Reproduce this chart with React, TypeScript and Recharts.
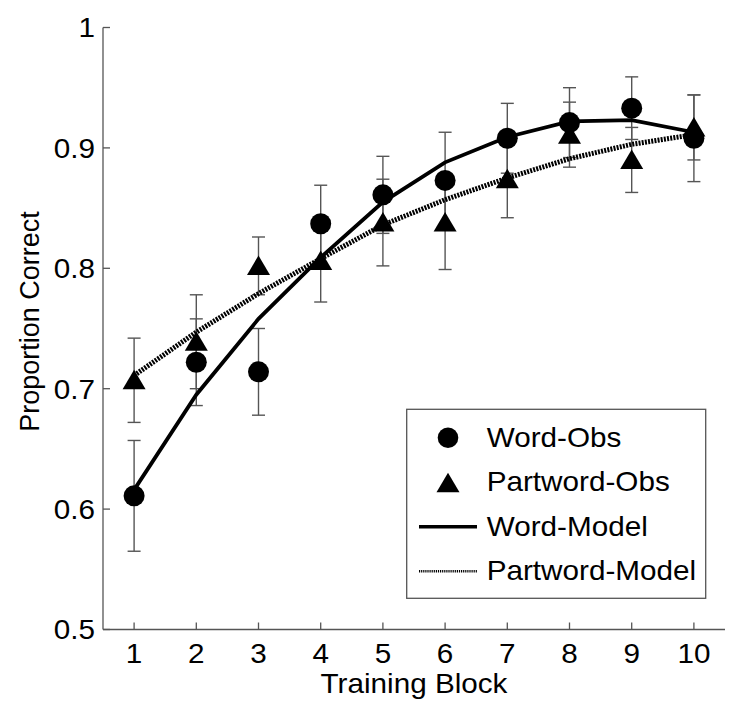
import React from 'react';
import { ComposedChart, Scatter, Line, XAxis, YAxis, ErrorBar } from 'recharts';

const blocks = [1, 2, 3, 4, 5, 6, 7, 8, 9, 10];
const wordObs = [0.611, 0.722, 0.714, 0.837, 0.861, 0.873, 0.908, 0.921, 0.933, 0.908];
const wordObsErr = [0.046, 0.036, 0.036, 0.032, 0.032, 0.040, 0.029, 0.029, 0.026, 0.036];
const partObs = [0.707, 0.739, 0.802, 0.806, 0.838, 0.838, 0.874, 0.911, 0.890, 0.917];
const partObsErr = [0.035, 0.039, 0.024, 0.034, 0.036, 0.039, 0.032, 0.027, 0.027, 0.027];
const wordModel = [0.616, 0.695, 0.758, 0.809, 0.855, 0.888, 0.909, 0.922, 0.923, 0.913];
const partModel = [0.711, 0.747, 0.779, 0.808, 0.836, 0.857, 0.875, 0.891, 0.903, 0.911];
const xTicks = [1, 2, 3, 4, 5, 6, 7, 8, 9, 10];
const yTicks = [0.5, 0.6, 0.7, 0.8, 0.9, 1];
const legendLabels = ['Word-Obs', 'Partword-Obs', 'Word-Model', 'Partword-Model'];
const xTitle = 'Training Block';
const yTitle = 'Proportion Correct';

const wordObsData = blocks.map((x, i) => ({ x, y: wordObs[i], err: wordObsErr[i] }));
const partObsData = blocks.map((x, i) => ({ x, y: partObs[i], err: partObsErr[i] }));
const wordModelData = blocks.map((x, i) => ({ x, y: wordModel[i] }));
const partModelData = blocks.map((x, i) => ({ x, y: partModel[i] }));

const FONT = '"Liberation Sans", Arial, sans-serif';
const FS = 28;
const SX = 1.06;
const AX = '#555';
const TL = 7;

const W = 742;
const H = 700;

const fmtY = (v: number) => (v === 1 ? '1' : v.toFixed(1));

const circleShape = (p: any) => <circle cx={p.cx} cy={p.cy} r={10.5} fill="#000" />;
const triPath = (cx: number, cy: number, s = 1) =>
  `M${cx},${cy - 10.5 * s} L${cx + 11.5 * s},${cy + 9 * s} L${cx - 11.5 * s},${cy + 9 * s} Z`;
const triShape = (p: any) => <path d={triPath(p.cx, p.cy)} fill="#000" />;

const bottomTick = (p: any) => (
  <g>
    <line x1={p.x} y1={p.y} x2={p.x} y2={p.y - TL} stroke={AX} strokeWidth={1.3} />
    <text
      transform={`translate(${p.x},${p.y + 33}) scale(${SX},1)`}
      textAnchor="middle"
      fontFamily={FONT}
      fontSize={FS}
      fill="#000"
    >
      {p.payload.value}
    </text>
  </g>
);
const topTick = (p: any) => (
  <line x1={p.x} y1={p.y} x2={p.x} y2={p.y + TL} stroke={AX} strokeWidth={1.3} />
);
const leftTick = (p: any) => (
  <g>
    <line x1={p.x} y1={p.y} x2={p.x + TL} y2={p.y} stroke={AX} strokeWidth={1.3} />
    <text
      transform={`translate(${p.x - 8},${p.y}) scale(${SX},1)`}
      textAnchor="end"
      dy="0.35em"
      fontFamily={FONT}
      fontSize={FS}
      fill="#000"
    >
      {fmtY(p.payload.value)}
    </text>
  </g>
);
const rightTick = (p: any) => (
  <line x1={p.x} y1={p.y} x2={p.x - TL} y2={p.y} stroke={AX} strokeWidth={1.3} />
);

const xLabel = (p: any) => {
  const vb = p.viewBox || {};
  const cx = vb.x + vb.width / 2;
  return (
    <text
      transform={`translate(${cx},${vb.y + 63.5}) scale(${SX},1)`}
      textAnchor="middle"
      fontFamily={FONT}
      fontSize={FS}
      fill="#000"
    >
      {xTitle}
    </text>
  );
};
const yLabel = (p: any) => {
  const vb = p.viewBox || {};
  const cy = vb.y + vb.height / 2;
  return (
    <text
      transform={`translate(22,${cy - 7}) rotate(-90)`}
      textAnchor="middle"
      dy="0.35em"
      fontFamily={FONT}
      fontSize={27}
      fill="#000"
    >
      {yTitle}
    </text>
  );
};

const LegendBox = () => {
  const bx = 398.7;
  const by = 401.3;
  const bw = 299;
  const bh = 189;
  const baseY = [438.7, 483.2, 527.7, 572.2];
  const mx = 440;
  const tx = 478.7;
  return (
    <svg
      width={W}
      height={H}
      style={{ position: 'absolute', left: 0, top: 0, pointerEvents: 'none' }}
    >
      <rect x={bx} y={by} width={bw} height={bh} fill="#fff" stroke={AX} strokeWidth={1.3} />
      {legendLabels.map((lab, i) => {
        const cy = baseY[i] - 9;
        let mark: React.ReactNode = null;
        if (i === 0) mark = <circle cx={mx} cy={cy} r={10.3} fill="#000" />;
        if (i === 1) mark = <path d={triPath(mx, cy + 1)} fill="#000" />;
        if (i === 2) mark = <line x1={411} y1={cy} x2={469} y2={cy} stroke="#000" strokeWidth={3.5} />;
        if (i === 3)
          mark = (
            <line x1={411} y1={cy} x2={469} y2={cy} stroke="#000" strokeWidth={2.5} strokeDasharray="1.2 0.9" />
          );
        return (
          <g key={lab}>
            {mark}
            <text
              transform={`translate(${tx},${baseY[i]}) scale(${SX},1)`}
              fontFamily={FONT}
              fontSize={FS}
              fill="#000"
            >
              {lab}
            </text>
          </g>
        );
      })}
    </svg>
  );
};

export default function App() {
  return (
    <div style={{ position: 'relative', width: W, height: H }}>
      <ComposedChart width={W} height={H} margin={{ top: 19.5, right: 25, bottom: 0, left: 0 }}>
        <XAxis
          dataKey="x"
          type="number"
          domain={[0.5, 10.5]}
          ticks={xTicks}
          interval={0}
          allowDataOverflow
          height={78.5}
          tickSize={0}
          tickMargin={0}
          tickLine={false}
          axisLine={{ stroke: AX, strokeWidth: 1.3 }}
          tick={bottomTick}
          label={xLabel}
        />
        <XAxis
          xAxisId="top"
          orientation="top"
          type="number"
          domain={[0.5, 10.5]}
          ticks={xTicks}
          interval={0}
          allowDataOverflow
          height={0}
          tickSize={0}
          tickMargin={0}
          tickLine={false}
          axisLine={{ stroke: AX, strokeWidth: 1.3 }}
          tick={topTick}
        />
        <YAxis
          dataKey="y"
          type="number"
          domain={[0.5, 1]}
          ticks={yTicks}
          interval={0}
          allowDataOverflow
          width={95}
          tickSize={0}
          tickMargin={0}
          tickLine={false}
          axisLine={{ stroke: AX, strokeWidth: 1.3 }}
          tick={leftTick}
          label={yLabel}
        />
        <YAxis
          yAxisId="right"
          orientation="right"
          type="number"
          domain={[0.5, 1]}
          ticks={yTicks}
          interval={0}
          allowDataOverflow
          width={0}
          tickSize={0}
          tickMargin={0}
          tickLine={false}
          axisLine={{ stroke: AX, strokeWidth: 1.3 }}
          tick={rightTick}
        />
        <Scatter name="Word-Obs" data={wordObsData} dataKey="y" shape={circleShape} isAnimationActive={false}>
          <ErrorBar dataKey="err" direction="y" width={6.5} stroke={AX} strokeWidth={1.4} />
        </Scatter>
        <Scatter name="Partword-Obs" data={partObsData} dataKey="y" shape={triShape} isAnimationActive={false}>
          <ErrorBar dataKey="err" direction="y" width={6.5} stroke={AX} strokeWidth={1.4} />
        </Scatter>
        <Line
          name="Word-Model"
          data={wordModelData}
          dataKey="y"
          type="linear"
          stroke="#000"
          strokeWidth={3.8}
          dot={false}
          activeDot={false}
          isAnimationActive={false}
        />
        <Line
          name="Partword-Model"
          data={partModelData}
          dataKey="y"
          type="linear"
          stroke="#000"
          strokeWidth={5}
          strokeDasharray="2 1.2"
          dot={false}
          activeDot={false}
          isAnimationActive={false}
        />
      </ComposedChart>
      <LegendBox />
    </div>
  );
}
